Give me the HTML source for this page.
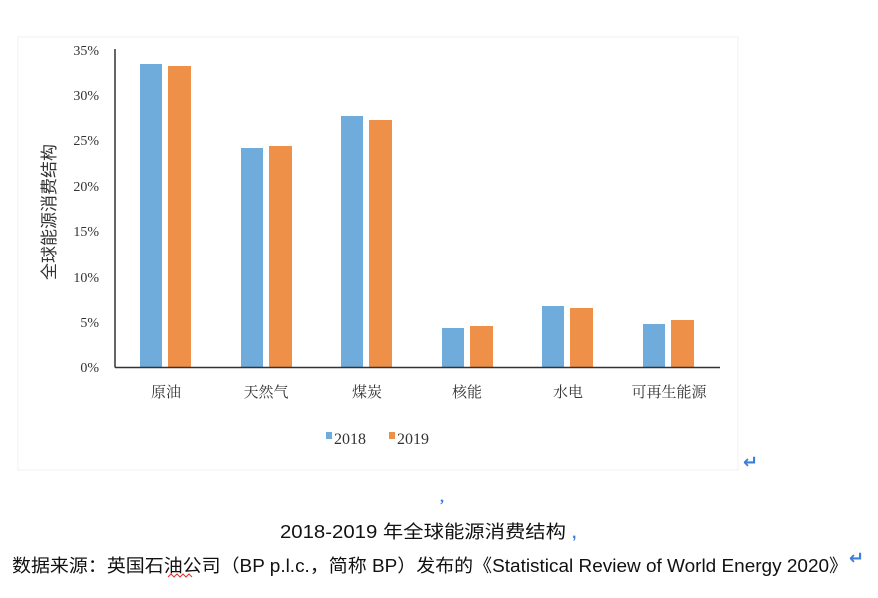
<!DOCTYPE html>
<html><head><meta charset="utf-8"><style>
body{margin:0;background:#fff;width:878px;height:598px;overflow:hidden}
svg{position:absolute;left:0;top:0}
</style></head><body>
<svg width="878" height="598" xmlns="http://www.w3.org/2000/svg" font-family="Liberation Serif, Noto Serif CJK SC, serif">
<rect x="18" y="37" width="720" height="433" fill="#fff" stroke="#f0f0f0"/>
<g font-size="14" fill="#333" text-anchor="end">
<text x="99" y="372">0%</text><text x="99" y="327">5%</text><text x="99" y="282">10%</text>
<text x="99" y="236">15%</text><text x="99" y="191">20%</text><text x="99" y="145">25%</text>
<text x="99" y="100">30%</text><text x="99" y="55">35%</text></g>
<text transform="translate(55,212) rotate(-90)" font-size="17" fill="#333" text-anchor="middle" font-family="Noto Sans CJK SC, sans-serif">全球能源消费结构</text>
<g fill="#6fabdb">
<rect x="140" y="64" width="22" height="303"/><rect x="241" y="148" width="22" height="219"/>
<rect x="341" y="116" width="22" height="251"/><rect x="442" y="328" width="22" height="39"/>
<rect x="542" y="306" width="22" height="61"/><rect x="643" y="324" width="22" height="43"/></g>
<g fill="#ef9049">
<rect x="168" y="66" width="23" height="301"/><rect x="269" y="146" width="23" height="221"/>
<rect x="369" y="120" width="23" height="247"/><rect x="470" y="326" width="23" height="41"/>
<rect x="570" y="308" width="23" height="59"/><rect x="671" y="320" width="23" height="47"/></g>
<line x1="115" y1="49" x2="115" y2="367.5" stroke="#333" stroke-width="1.5"/>
<line x1="115" y1="367.5" x2="720" y2="367.5" stroke="#333" stroke-width="1.5"/>
<g font-size="15" fill="#333" text-anchor="middle" font-family="Noto Serif CJK SC, serif">
<text x="166" y="397">原油</text><text x="266" y="397">天然气</text><text x="367" y="397">煤炭</text>
<text x="467" y="397">核能</text><text x="568" y="397">水电</text><text x="669" y="397">可再生能源</text></g>
<rect x="326" y="432" width="6" height="7" fill="#6fabdb"/><text x="334" y="444" font-size="16" fill="#333">2018</text>
<rect x="389" y="432" width="6" height="7" fill="#ef9049"/><text x="397" y="444" font-size="16" fill="#333">2019</text>
<text x="743" y="468" font-size="18" fill="#3a7fd9" font-family="DejaVu Sans" font-weight="bold">↵</text>
<text x="440" y="502" font-size="16" fill="#3a7fd9" font-weight="bold">,</text>
<g font-family="Liberation Sans, Noto Sans CJK SC, sans-serif" font-size="18" fill="#111">
<text x="280" y="538" textLength="286" lengthAdjust="spacingAndGlyphs">2018-2019 年全球能源消费结构</text>
<text x="572" y="538" font-size="16" fill="#3a7fd9" font-weight="bold">,</text>
<text x="12" y="572" textLength="836" lengthAdjust="spacingAndGlyphs">数据来源：英国石油公司（BP p.l.c.，简称 BP）发布的《Statistical Review of World Energy 2020》</text>
</g>
<path d="M168 577 l3 -3 l3 3 l3 -3 l3 3 l3 -3 l3 3 l3 -3 l3 3" stroke="#d33" fill="none" stroke-width="1"/>
<text x="849" y="564" font-size="18" fill="#3a7fd9" font-family="DejaVu Sans" font-weight="bold">↵</text>
</svg>
</body></html>
